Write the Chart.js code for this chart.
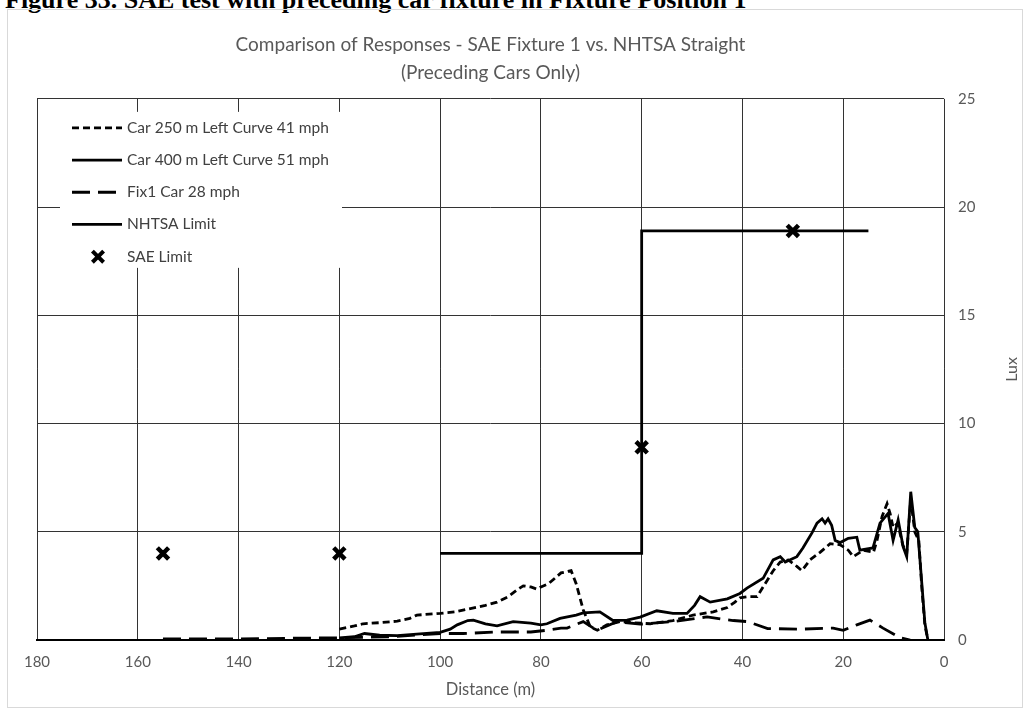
<!DOCTYPE html>
<html>
<head>
<meta charset="utf-8">
<script src="https://cdn.jsdelivr.net/npm/chart.js@4.4.1/dist/chart.umd.min.js"></script>
<style>
  html, body { margin: 0; padding: 0; background: #fff; overflow: hidden; }
  #wrap { position: relative; width: 1029px; height: 713px; }
  #caption { position: absolute; left: 5px; top: -15px; line-height: 24px; font: bold 26px "Liberation Serif", "DejaVu Serif", serif; color: #000; white-space: nowrap; }
  #frame { position: absolute; left: 7px; top: 9px; width: 1014px; height: 697px; border: 1px solid #d9d9d9; }
  #chart { position: absolute; left: 0; top: 0; }
</style>
</head>
<body>
<div id="wrap">
  <div id="caption">Figure 33. SAE test with preceding car fixture in Fixture Position 1</div>
  <div id="frame"></div>
  <canvas id="chart" width="1029" height="713"></canvas>
</div>
<script>
// axis ranges
var distMax = 180, distStep = 20;
var luxMax = 25, luxStep = 5;

// Car 250 m Left Curve 41 mph
var car250Dist = [120, 117, 115.3, 112, 108.5, 106, 104.6, 100, 97, 94, 91, 88.7, 86.5, 84.5, 83.5, 82, 80.8, 80, 78.5, 76, 74, 73, 71.6, 70.2, 68.8, 66.9, 64.3, 61.7, 58.3, 53.8, 49.8, 45.8, 43, 41.5, 40.5, 39, 37.1, 35.9, 33.9, 32.5, 30.9, 29.2, 28.2, 26.6, 24.6, 22.6, 20.6, 19, 18, 16, 14, 13.3, 12.3, 11.3, 10.7, 10.1, 9.2, 8.2, 7.4, 6.6, 5.8, 5.0, 4.4, 3.8, 3.2];
var car250Lux = [0.5, 0.65, 0.75, 0.8, 0.87, 1.0, 1.15, 1.23, 1.3, 1.45, 1.6, 1.75, 2.0, 2.35, 2.5, 2.45, 2.35, 2.45, 2.6, 3.1, 3.2, 2.6, 1.4, 0.6, 0.45, 0.7, 0.85, 0.8, 0.75, 0.9, 1.15, 1.3, 1.5, 1.75, 1.95, 2.0, 2.0, 2.45, 3.2, 3.6, 3.7, 3.4, 3.2, 3.7, 4.05, 4.45, 4.4, 4.15, 3.85, 4.15, 4.05, 4.6, 5.7, 6.3, 5.85, 5.2, 5.4, 4.4, 4.0, 6.5, 5.0, 4.6, 2.4, 0.7, 0];

// Car 400 m Left Curve 51 mph
var car400Dist = [120, 117, 115, 112, 108.5, 104, 100, 98, 96.6, 94.5, 93.4, 91, 88.7, 85.5, 82, 80, 78.8, 76.2, 73, 71.6, 68.3, 65.7, 62.9, 60.3, 57, 53.8, 51, 49.5, 48.4, 46.4, 43, 40.5, 39.1, 35.9, 33.9, 32.5, 31.5, 29.2, 28, 26.2, 25.2, 24.2, 23.6, 23, 22.3, 21.6, 20.6, 19, 17.3, 16.7, 14.1, 12.7, 11.1, 10.1, 9.1, 8.1, 7.4, 6.6, 5.8, 5.2, 4.4, 3.8, 3.2];
var car400Lux = [0.1, 0.15, 0.3, 0.22, 0.2, 0.28, 0.35, 0.5, 0.7, 0.9, 0.92, 0.75, 0.65, 0.85, 0.78, 0.7, 0.75, 1.0, 1.15, 1.25, 1.3, 0.9, 0.92, 1.06, 1.35, 1.23, 1.23, 1.6, 2.0, 1.75, 1.9, 2.15, 2.4, 2.85, 3.7, 3.85, 3.6, 3.85, 4.25, 4.95, 5.4, 5.6, 5.4, 5.6, 5.3, 4.6, 4.5, 4.7, 4.75, 4.15, 4.25, 5.4, 5.85, 4.6, 5.55, 4.3, 3.85, 6.85, 5.2, 5.0, 2.6, 0.8, 0];

// Fix1 Car 28 mph
var fix1Dist = [155, 140, 130, 120, 110, 100, 95.4, 88.7, 82, 78.8, 76, 74.8, 71.6, 68.9, 64.9, 60.3, 53.8, 47, 43.8, 41.8, 39, 35, 28.6, 22, 20, 17.3, 14.7, 12.1, 8.7, 6.7];
var fix1Lux = [0.05, 0.05, 0.08, 0.1, 0.15, 0.3, 0.3, 0.37, 0.37, 0.45, 0.55, 0.55, 0.85, 0.45, 0.85, 0.73, 0.85, 1.07, 0.95, 0.9, 0.85, 0.53, 0.5, 0.55, 0.45, 0.7, 0.92, 0.55, 0.1, 0];

// limits
var nhtsaDist = [100, 60, 60, 15];
var nhtsaLux = [4, 4, 18.9, 18.9];
var saeDist = [155, 120, 60, 30];
var saeLux = [4, 4, 8.9, 18.9];

var FONT = 'Lato, "Open Sans", sans-serif';
var GREY = '#595959';

function pts(xs, ys) {
    return xs.map(function (x, i) { return { x: x, y: ys[i] }; });
}

function lineSet(label, xs, ys, dash) {
    return {
        label: label,
        data: pts(xs, ys),
        borderColor: '#000',
        borderWidth: 2.8,
        borderDash: dash,
        pointRadius: 0,
        tension: 0,
        fill: false
    };
}

// white box in the top-left of the plot with one row per dataset
var legendBox = {
    id: 'legendBox',
    beforeDatasetsDraw: function (chart) {
        var ctx = chart.ctx, area = chart.chartArea;
        var x0 = area.left + 23, y0 = area.top + 13;
        ctx.save();
        ctx.fillStyle = '#fff';
        ctx.fillRect(x0, y0, 282, 156);
        ctx.font = '15.5px ' + FONT;
        ctx.textBaseline = 'middle';
        chart.data.datasets.forEach(function (ds, i) {
            var y = y0 + 16 + i * 32.2;
            ctx.strokeStyle = '#000';
            if (ds.showLine === false) {
                var r = 5.6;
                ctx.lineWidth = 4;
                ctx.beginPath();
                ctx.moveTo(x0 + 38 - r, y - r); ctx.lineTo(x0 + 38 + r, y + r);
                ctx.moveTo(x0 + 38 - r, y + r); ctx.lineTo(x0 + 38 + r, y - r);
                ctx.stroke();
            } else {
                ctx.lineWidth = ds.borderWidth;
                ctx.setLineDash(ds.borderDash || []);
                ctx.beginPath();
                ctx.moveTo(x0 + 12, y);
                ctx.lineTo(x0 + 62, y);
                ctx.stroke();
                ctx.setLineDash([]);
            }
            ctx.fillStyle = '#404040';
            ctx.fillText(ds.label, x0 + 67, y);
        });
        ctx.restore();
    }
};

// secondary-axis style title, reading bottom to top
var luxTitle = {
    id: 'luxTitle',
    afterDraw: function (chart) {
        var ctx = chart.ctx, area = chart.chartArea;
        ctx.save();
        ctx.translate(1012, (area.top + area.bottom) / 2);
        ctx.rotate(-Math.PI / 2);
        ctx.font = '16px ' + FONT;
        ctx.fillStyle = GREY;
        ctx.textAlign = 'center';
        ctx.textBaseline = 'middle';
        ctx.fillText('Lux', 0, 0);
        ctx.restore();
    }
};

var ctx = document.getElementById('chart').getContext('2d');
var luxChart = new Chart(ctx, {
    type: 'line',
    data: {
        datasets: [
            lineSet('Car 250 m Left Curve 41 mph', car250Dist, car250Lux, [7, 4]),
            lineSet('Car 400 m Left Curve 51 mph', car400Dist, car400Lux, []),
            lineSet('Fix1 Car 28 mph', fix1Dist, fix1Lux, [18, 8]),
            lineSet('NHTSA Limit', nhtsaDist, nhtsaLux, []),
            {
                label: 'SAE Limit',
                data: pts(saeDist, saeLux),
                showLine: false,
                pointStyle: 'crossRot',
                pointRadius: 8,
                borderWidth: 4.5,
                borderColor: '#000',
                backgroundColor: '#000'
            }
        ]
    },
    options: {
        responsive: false,
        animation: false,
        layout: { padding: { left: 37, right: 0, top: 0, bottom: 0 } },
        plugins: {
            legend: { display: false },
            tooltip: { enabled: false },
            title: {
                display: true,
                fullSize: false,
                text: ['Comparison of Responses - SAE Fixture 1 vs. NHTSA Straight', '(Preceding Cars Only)'],
                color: GREY,
                font: { family: FONT, size: 19, weight: 'normal', lineHeight: 1.47 },
                padding: { top: 31, bottom: 12 }
            }
        },
        scales: {
            x: {
                type: 'linear',
                reverse: true,
                min: 0,
                max: distMax,
                ticks: { stepSize: distStep, color: GREY, font: { family: FONT, size: 15 }, padding: 13, maxRotation: 0 },
                grid: { color: '#333', lineWidth: 1, drawTicks: false },
                border: { color: '#000', width: 2 },
                title: { display: true, text: 'Distance (m)', color: GREY, font: { family: FONT, size: 16.5 }, padding: { top: 13, bottom: 13 } },
                afterFit: function (scale) { scale.height = 73; }
            },
            y: {
                position: 'right',
                min: 0,
                max: luxMax,
                ticks: { stepSize: luxStep, color: GREY, font: { family: FONT, size: 15 }, padding: 14 },
                grid: { color: '#333', lineWidth: 1, drawTicks: false },
                border: { display: false },
                afterFit: function (scale) { scale.width = 85; }
            }
        }
    },
    plugins: [legendBox, luxTitle]
});
</script>
</body>
</html>
